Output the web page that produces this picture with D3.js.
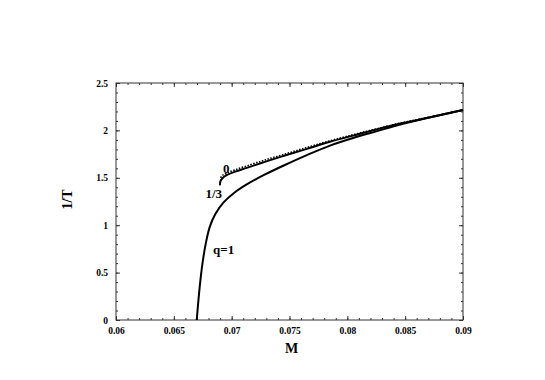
<!DOCTYPE html>
<html>
<head>
<meta charset="utf-8">
<script src="https://cdn.jsdelivr.net/npm/d3@7"></script>
<style>
body{margin:0;background:#fff;}
text{font-family:"Liberation Serif","Times New Roman",serif;font-weight:bold;}
</style>
</head>
<body>
<svg id="graph"></svg>
<script>
// curve data
var m1=[0.06698,0.06712,0.06728,0.06748,0.06775,0.0681,0.0686,0.0693,0.0702,0.0713,0.0728,0.0745,0.0765,0.0785,0.0805,0.0825,0.0845,0.0865,0.09]
var t1=[0,0.2,0.4,0.6,0.8,0.98,1.12,1.24,1.34,1.43,1.53,1.63,1.74,1.84,1.92,1.99,2.06,2.12,2.215]

var m13=[0.06899,0.06902,0.0692,0.0696,0.0703,0.0713,0.0728,0.0746,0.0765,0.0785,0.0805,0.0825,0.0845,0.0865,0.09]
var t13=[1.42,1.46,1.495,1.53,1.565,1.605,1.665,1.735,1.805,1.88,1.945,2.01,2.07,2.12,2.215]

var m0=[0.06905,0.0692,0.0696,0.0703,0.0713,0.0728,0.0746,0.0765,0.0785,0.0805,0.0825,0.0845,0.0865,0.09]
var t0=[1.50,1.525,1.55,1.585,1.625,1.685,1.75,1.82,1.89,1.955,2.015,2.075,2.125,2.215]

var xTicks=[0.06,0.065,0.07,0.075,0.08,0.085,0.09]
var xLabels=["0.06","0.065","0.07","0.075","0.08","0.085","0.09"]
var yTicks=[0,0.5,1,1.5,2,2.5]
var yLabels=["0","0.5","1","1.5","2","2.5"]

var screen={width:545,height:380}
var plot={left:116,right:463,top:83,bottom:320}

var svg=d3.select("#graph")
.attr("width",screen.width)
.attr("height",screen.height)

var xscale=d3.scaleLinear()
.domain([0.06,0.09])
.range([plot.left,plot.right])

var yscale=d3.scaleLinear()
.domain([0,2.5])
.range([plot.bottom,plot.top])

var xMinor=d3.range(60,91).map(function(d){return d/1000})
var yMinor=d3.range(0,26).map(function(d){return d/10})

function drawAxis(axis,tr,labels)
{
  var g=svg.append("g").attr("transform",tr).call(axis)
  g.select(".domain").remove()
  g.selectAll("line").attr("stroke","#333")
  g.selectAll("text").attr("font-size","9.5px").attr("fill","#000")
  if(!labels) g.selectAll("text").remove()
  return g
}

// bottom
drawAxis(d3.axisBottom(xscale).tickValues(xMinor).tickSize(-2).tickFormat(""),"translate(0,"+plot.bottom+")",false)
drawAxis(d3.axisBottom(xscale).tickValues(xTicks).tickSize(-4).tickPadding(7)
  .tickFormat(function(d,i){return xLabels[i]}),"translate(0,"+plot.bottom+")",true)
// top
drawAxis(d3.axisTop(xscale).tickValues(xMinor).tickSize(-2),"translate(0,"+plot.top+")",false)
drawAxis(d3.axisTop(xscale).tickValues(xTicks).tickSize(-4),"translate(0,"+plot.top+")",false)
// left
drawAxis(d3.axisLeft(yscale).tickValues(yMinor).tickSize(-2).tickFormat(""),"translate("+plot.left+",0)",false)
drawAxis(d3.axisLeft(yscale).tickValues(yTicks).tickSize(-4).tickPadding(8)
  .tickFormat(function(d,i){return yLabels[i]}),"translate("+plot.left+",0)",true)
// right
drawAxis(d3.axisRight(yscale).tickValues(yMinor).tickSize(-2),"translate("+plot.right+",0)",false)
drawAxis(d3.axisRight(yscale).tickValues(yTicks).tickSize(-4),"translate("+plot.right+",0)",false)

svg.append("rect")
.attr("x",plot.left).attr("y",plot.top)
.attr("width",plot.right-plot.left).attr("height",plot.bottom-plot.top)
.attr("fill","none").attr("stroke","#333").attr("stroke-width",1)

var line=d3.line()
.x(function(d){return xscale(d[0])})
.y(function(d){return yscale(d[1])})
.curve(d3.curveCatmullRom.alpha(0.5))

function pairs(m,t){return m.map(function(d,i){return [d,t[i]]})}

svg.append("path").datum(pairs(m1,t1)).attr("d",line)
.attr("fill","none").attr("stroke","#000").attr("stroke-width",2)
svg.append("path").datum(pairs(m13,t13)).attr("d",line)
.attr("fill","none").attr("stroke","#000").attr("stroke-width",2)
svg.append("path").datum(pairs(m0,t0)).attr("d",line)
.attr("fill","none").attr("stroke","#000").attr("stroke-width",1.6).attr("stroke-dasharray","1.5,1.5")

// curve labels
svg.append("text").attr("x",223).attr("y",173).text("0").attr("font-size","13px")
svg.append("text").attr("x",222).attr("y",198).text("1/3").attr("font-size","13px").attr("text-anchor","end")
svg.append("text").attr("x",213).attr("y",254).text("q=1").attr("font-size","13px")

// axis titles
svg.append("text").attr("x",(plot.left+plot.right)/2+2).attr("y",353)
.attr("text-anchor","middle").attr("font-size","14px").text("M")
svg.append("text").attr("transform","translate(72,"+((plot.top+plot.bottom)/2-2)+") rotate(-90)")
.attr("text-anchor","middle").attr("font-size","14px").text("1/T")
</script>
</body>
</html>
